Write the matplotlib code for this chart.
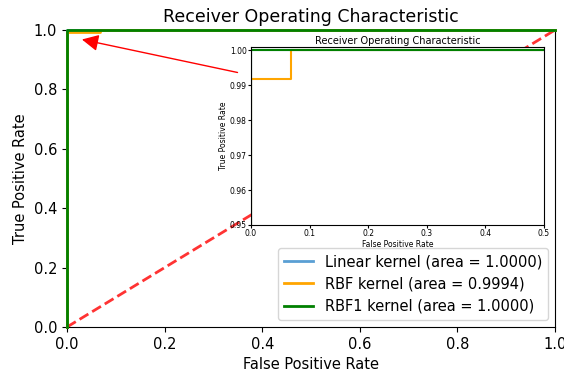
import numpy as np
import matplotlib
matplotlib.use("Agg")
from matplotlib import pyplot as plt

# ROC curve points for each kernel
fpr_linear = [0.0, 0.0, 1.0]
tpr_linear = [0.0, 1.0, 1.0]
fpr_rbf = [0.0, 0.0, 0.068, 0.068, 1.0]
tpr_rbf = [0.0, 0.9917, 0.9917, 1.0, 1.0]
fpr_rbf1 = [0.0, 0.0, 1.0]
tpr_rbf1 = [0.0, 1.0, 1.0]
auc_linear = 1.0000
auc_rbf = 0.9994
auc_rbf1 = 1.0000

plt.rcParams['font.size'] = 10.5

fig = plt.figure(figsize=(5.64, 3.72), dpi=100)
ax = fig.add_axes([67 / 564, 45 / 372, 488 / 564, 297 / 372])

# curves sit on top of the spines so the edges show the line colour
ax.plot(fpr_linear, tpr_linear, color='#5a9fd4', lw=2, clip_on=False, zorder=3,
        label='Linear kernel (area = %0.4f)' % auc_linear)
ax.plot(fpr_rbf, tpr_rbf, color='orange', lw=2, clip_on=False, zorder=3,
        label='RBF kernel (area = %0.4f)' % auc_rbf)
ax.plot(fpr_rbf1, tpr_rbf1, color='green', lw=2, clip_on=False, zorder=3,
        label='RBF1 kernel (area = %0.4f)' % auc_rbf1)
ax.plot([0, 1], [0, 1], 'r--', lw=2, alpha=0.8)
ax.set_xlim(0, 1)
ax.set_ylim(0, 1)
ax.set_xlabel('False Positive Rate')
ax.set_ylabel('True Positive Rate')
ax.set_title('Receiver Operating Characteristic', fontsize=12.5)
ax.legend(loc='lower right')

ax.annotate('', xy=(0.025, 0.97), xytext=(0.355, 0.855),
            arrowprops=dict(arrowstyle='-|>', color='red', lw=1, mutation_scale=25))

# zoomed view of the top-left corner
axins = fig.add_axes([251 / 564, 147 / 372, 293 / 564, 178 / 372])
axins.plot(fpr_linear, tpr_linear, color='#5a9fd4', lw=1.5)
axins.plot(fpr_rbf, tpr_rbf, color='orange', lw=1.5)
axins.plot(fpr_rbf1, tpr_rbf1, color='green', lw=1.5)
axins.set_xlim(0, 0.5)
axins.set_ylim(0.95, 1.001)
axins.set_title('Receiver Operating Characteristic', fontsize=7, pad=2)
axins.set_xlabel('False Positive Rate', fontsize=5.5, labelpad=1)
axins.set_ylabel('True Positive Rate', fontsize=5.5, labelpad=1)
axins.tick_params(labelsize=5.5, length=2, pad=1)

fig.savefig('out.png', dpi=100)
